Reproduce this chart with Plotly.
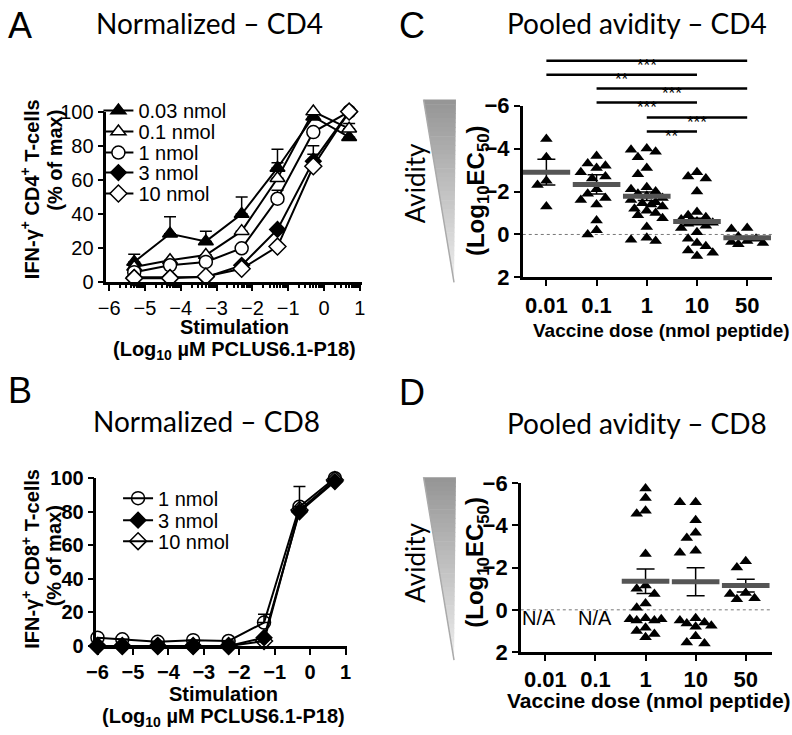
import numpy as np
import plotly.graph_objects as go

W, H = 792, 735
ARIAL = "Liberation Sans, Arial, sans-serif"
CALI = "Lato, sans-serif"

# ---- A: normalized CD4 response
stim_a = [-5.3, -4.3, -3.3, -2.3, -1.3, -0.3, 0.7]
cd4_003 = [12, 28.5, 24, 40, 67, 97, 85]
cd4_003_err = [4.5, 10, 6, 10, 11, None, None]
cd4_01 = [9, 13, 16, 30, 61, 100, 90]
cd4_01_err = [None, None, None, None, 9, None, 3]
cd4_1 = [6, 10, 12, 20, 49, 88, 100]
cd4_1_err = [None, None, None, None, 5, None, None]
cd4_3 = [3, 3, 3, 10, 31, 71, 100]
cd4_3_err = [None, None, None, None, None, 4, None]
cd4_10 = [2.5, 2.5, 3.5, 8, 21, 68, 100]
cd4_10_err = [None, None, None, None, None, 12, None]

# ---- B: normalized CD8 response
stim_b = [-6, -5.3, -4.3, -3.3, -2.3, -1.3, -0.3, 0.7]
cd8_1 = [5, 4, 2.5, 3.5, 3, 14, 83, 100]
cd8_1_err = [None, None, None, None, None, 5, 12, None]
cd8_3 = [0, 0, 0, 0, 0, 5, 80, 98]
cd8_10 = [0, 0, 0, 0, 0, 3, 81, 99]

# ---- C / D: pooled avidity (log10 EC50)
doses = ["0.01", "0.1", "1", "10", "50"]
c_vals = [
    [-4.45, -3.6, -2.5, -2.3, -1.3],
    [-3.65, -3.3, -3.2, -3.1, -2.9, -2.7, -2.6, -2.1, -1.9, -1.7, -1.6, -1.4, -0.65, -0.2, 0.0],
    [-4.0, -3.95, -3.85, -3.6, -3.1, -2.8, -2.2, -2.1, -2.0, -1.9, -1.8, -1.7, -1.6, -1.5,
     -1.45, -1.4, -1.3, -1.2, -1.1, -1.0, -0.9, -0.75, -0.35, 0.15, 0.25, 0.3],
    [-2.9, -2.7, -2.6, -2.0, -1.05, -0.9, -0.8, -0.7, -0.6, -0.55, -0.5, -0.4, -0.3, -0.1,
     0.2, 0.4, 0.55, 0.75, 0.85, 1.0],
    [-0.3, -0.25, 0.1, 0.2, 0.3, 0.35, 0.4, 0.45],
]
c_mean = [-2.9, -2.33, -1.78, -0.6, 0.15]
c_sem = [0.6, 0.45, 0.2, 0.15, 0.05]
c_sig = [(0, 4, "***"), (0, 3, "**"), (1, 4, "***"), (1, 3, "***"), (2, 4, "***"), (2, 3, "**")]

d_vals = [
    [],
    [],
    [-5.75, -5.3, -4.7, -4.55, -2.65, -1.15, -1.0, -0.75, -0.3, -0.1, 0.4, 0.45, 0.45, 0.5,
     0.5, 0.85, 1.0, 1.15, 1.3],
    [-5.1, -5.1, -4.25, -3.65, -3.4, -2.8, -2.7, 0.4, 0.5, 0.6, 0.65, 0.75, 0.8, 1.25, 1.55, 1.6],
    [-2.3, -2.0, -0.8, -0.75, -0.55, -0.5],
]
d_mean = [None, None, -1.35, -1.33, -1.15]
d_sem = [None, None, 0.58, 0.66, 0.3]


def px(x):
    return x / W


def py(y):
    # target pixel row -> paper fraction (compensates the vertical squeeze seen in the photo)
    yy = max((y - 11.3) / 0.967, 0)
    return 1 - yy / H


def swarm(vals, yscale=21.3, xscale=51.0, size=9.5):
    # simple beeswarm: spread overlapping points sideways (pixel units)
    cands = [0, -9, 9, -16, 16, -4.5, 4.5, -12.5, 12.5]
    placed, offs = [], []
    for v in vals:
        y = v * yscale
        best, score = 0, 1e9
        for c in cands:
            ov = sum(max(0, size - np.hypot(c - a, y - b)) for a, b in placed)
            if ov < score:
                best, score = c, ov
            if ov == 0:
                break
        placed.append((best, y))
        offs.append(best / xscale)
    return offs


fig = go.Figure()

# A traces
a_series = [
    ("0.03 nmol", cd4_003, cd4_003_err, "triangle-up", "black", 13),
    ("0.1 nmol", cd4_01, cd4_01_err, "triangle-up", "white", 13),
    ("1 nmol", cd4_1, cd4_1_err, "circle", "white", 13),
    ("3 nmol", cd4_3, cd4_3_err, "diamond", "black", 12),
    ("10 nmol", cd4_10, cd4_10_err, "diamond", "white", 13),
]
for i, (name, ys, err, sym, col, sz) in enumerate(a_series):
    fig.add_trace(go.Scatter(
        x=stim_a, y=ys, name=name, mode="lines+markers", xaxis="x", yaxis="y",
        legend="legend" if i == 0 else f"legend{i + 1}",
        line=dict(color="black", width=2),
        marker=dict(symbol=sym, color=col, size=sz, line=dict(color="black", width=1.5)),
        error_y=dict(type="data", symmetric=False, array=err, arrayminus=[0] * len(err),
                     color="black", thickness=1.5, width=6),
        cliponaxis=False,
    ))

# B traces
b_series = [
    ("1 nmol", cd8_1, cd8_1_err, "circle-open", 13),
    ("3 nmol", cd8_3, None, "diamond", 12),
    ("10 nmol", cd8_10, None, "diamond-open", 13),
]
for i, (name, ys, err, sym, sz) in enumerate(b_series):
    eb = None
    if err is not None:
        eb = dict(type="data", symmetric=False, array=err, arrayminus=[0] * len(err),
                  color="black", thickness=1.5, width=6)
    fig.add_trace(go.Scatter(
        x=stim_b, y=ys, name=name, mode="lines+markers", xaxis="x2", yaxis="y2",
        legend=f"legend{i + 6}",
        line=dict(color="black", width=2),
        marker=dict(symbol=sym, color="black", size=sz, line=dict(color="black", width=1.5)),
        error_y=eb, cliponaxis=False,
    ))

# C / D scatter
for vals_all, means, sems, xa, ya in [(c_vals, c_mean, c_sem, "x3", "y3"),
                                      (d_vals, d_mean, d_sem, "x4", "y4")]:
    for k, vals in enumerate(vals_all):
        if not vals:
            continue
        order = sorted(vals)
        offs = swarm(order)
        fig.add_trace(go.Scatter(
            x=[k + o for o in offs], y=order, mode="markers", xaxis=xa, yaxis=ya,
            showlegend=False, marker=dict(symbol="triangle-up", color="black", size=11),
            cliponaxis=False,
        ))
    xs = [k for k, m in enumerate(means) if m is not None]
    fig.add_trace(go.Scatter(
        x=xs, y=[means[k] for k in xs], mode="markers", xaxis=xa, yaxis=ya, showlegend=False,
        marker=dict(symbol="line-ew", size=34, color="#555555", line=dict(color="#555555", width=5)),
        error_y=dict(type="data", array=[sems[k] for k in xs], color="black", thickness=1.5, width=9),
    ))

axis_common = dict(showline=True, linecolor="black", linewidth=2.5, ticks="outside", ticklen=6,
                   tickwidth=2, tickcolor="black", showgrid=False, zeroline=False)

minor_a = [k + np.log10(m) for k in range(-6, 1) for m in range(2, 10)]

fig.update_layout(
    width=W, height=H, margin=dict(l=0, r=0, t=0, b=0),
    paper_bgcolor="white", plot_bgcolor="rgba(0,0,0,0)",
    font=dict(family=ARIAL, color="black"),
    xaxis=dict(domain=[px(98), px(358)], range=[-6.08, 1.05], anchor="y", tickvals=list(range(-6, 2)),
               tickfont=dict(size=20),
               minor=dict(tickvals=minor_a, ticks="outside", ticklen=3, tickwidth=1.5, tickcolor="black"),
               **axis_common),
    yaxis=dict(domain=[py(282), py(111)], range=[0, 100], anchor="x", dtick=20,
               tickfont=dict(size=20), **axis_common),
    xaxis2=dict(domain=[px(88), px(343)], range=[-6.03, 1.04], anchor="y2", tickvals=list(range(-6, 2)),
                tickfont=dict(size=20, weight="bold"), **axis_common),
    yaxis2=dict(domain=[py(646), py(478)], range=[0, 100], anchor="x2", dtick=20,
                tickfont=dict(size=20, weight="bold"), **axis_common),
    xaxis3=dict(domain=[px(522), px(776)], range=[-0.47, 4.5], anchor="y3",
                tickvals=list(range(5)), ticktext=doses, tickfont=dict(size=22, weight="bold"), **axis_common),
    yaxis3=dict(domain=[py(277), py(105)], range=[2, -6], anchor="x3", tickvals=[-6, -4, -2, 0, 2],
                tickfont=dict(size=22, weight="bold"), **axis_common),
    xaxis4=dict(domain=[px(520), px(776)], range=[-0.49, 4.53], anchor="y4",
                tickvals=list(range(5)), ticktext=doses, tickfont=dict(size=22, weight="bold"), **axis_common),
    yaxis4=dict(domain=[py(652), py(483)], range=[2, -6], anchor="x4", tickvals=[-6, -4, -2, 0, 2],
                tickfont=dict(size=22, weight="bold"), **axis_common),
)

# one legend per entry, so the rows can sit close together
leg_rows = [(90, 110), (90, 131), (90, 152), (90, 172), (90, 193), (110, 498), (110, 520), (110, 541)]
for i, (lx, ly) in enumerate(leg_rows):
    key = "legend" if i == 0 else f"legend{i + 1}"
    fig.update_layout({key: dict(x=px(lx), y=py(ly), xanchor="left", yanchor="middle",
                                 bgcolor="rgba(0,0,0,0)", font=dict(size=20, family=ARIAL))})

anns = []


def text(t, x, y, size, bold=False, angle=0, family=ARIAL):
    anns.append(dict(text=t, x=px(x), y=py(y), xref="paper", yref="paper", showarrow=False,
                     xanchor="center", yanchor="middle", textangle=angle,
                     font=dict(size=size, family=family, color="black",
                               weight="bold" if bold else "normal")))


# panel letters and titles
text("A", 10, 25, 36)
text("B", 10, 390, 36)
text("C", 409, 25, 36)
text("D", 409, 392, 36)
text("Normalized – CD4", 203, 22, 28, family=CALI)
text("Normalized – CD8", 200, 421, 28, family=CALI)
text("Pooled avidity – CD4", 638, 22, 28, family=CALI)
text("Pooled avidity – CD8", 638, 423, 28, family=CALI)

# axis titles
text("IFN-γ<sup>+</sup> CD4<sup>+</sup> T-cells", 20, 189, 20, True, -90)
text("(% of max)", 45, 160, 20, True, -90)
text("Stimulation", 229, 327, 20, True)
text("(Log<sub>10</sub> µM PCLUS6.1-P18)", 229, 350, 20, True)
text("IFN-γ<sup>+</sup> CD8<sup>+</sup> T-cells", 20, 559, 20, True, -90)
text("(% of max)", 45, 556, 20, True, -90)
text("Stimulation", 217, 694, 20, True)
text("(Log<sub>10</sub> µM PCLUS6.1-P18)", 217, 718, 20, True)
text("(Log<sub>10</sub>EC<sub>50</sub>)", 476, 190, 24, True, -90)
text("(Log<sub>10</sub>EC<sub>50</sub>)", 475, 562, 24, True, -90)
text("Avidity", 412, 183, 26, angle=-90, family=CALI)
text("Avidity", 412, 563, 26, angle=-90, family=CALI)
text("Vaccine dose (nmol peptide)", 663, 330, 19, True)
text("Vaccine dose (nmol peptide)", 650, 701, 21, True)

# N/A labels in D
for k in (0, 1):
    anns.append(dict(text="N/A", x=k, y=0, xref="x4", yref="y4", showarrow=False, yshift=-8,
                     xshift=-6 if k == 0 else 0, font=dict(size=20, family=ARIAL, color="black")))

shapes = []
# significance bars in C
sig_y = [60, 74, 88, 102, 117, 131]
for (a, b, stars), yy in zip(c_sig, sig_y):
    shapes.append(dict(type="line", xref="x3", yref="paper", x0=a, x1=b, y0=py(yy), y1=py(yy),
                       line=dict(color="black", width=2.5)))
    anns.append(dict(text=stars, x=(a + b) / 2, y=py(yy - 7), xref="x3", yref="paper",
                     showarrow=False, font=dict(size=17, family=ARIAL, color="black")))

# dotted zero lines
for xa, ya in [("x3", "y3"), ("x4", "y4")]:
    shapes.append(dict(type="line", xref=f"{xa} domain", yref=ya, x0=0, x1=1, y0=0, y1=0,
                       line=dict(color="#777777", width=1, dash="dot"), layer="below"))

# avidity wedges (vertical gray gradient)
n = 40
for top in (99, 477):
    hgt = 183
    for i in range(n):
        t0, t1 = i / n, (i + 1) / n
        g = int(150 + 90 * t0)
        xl0, xl1 = 421 + 31 * t0, 421 + 31 * t1
        xr0, xr1 = 454 - 2 * t0, 454 - 2 * t1
        y0, y1 = top + hgt * t0, top + hgt * t1 + 0.6
        path = (f"M {px(xl0)},{py(y0)} L {px(xr0)},{py(y0)} L {px(xr1)},{py(y1)} "
                f"L {px(xl1)},{py(y1)} Z")
        shapes.append(dict(type="path", path=path, xref="paper", yref="paper",
                           fillcolor=f"rgb({g},{g},{g})", line=dict(width=0), layer="below"))
    shapes.append(dict(type="line", xref="paper", yref="paper", x0=px(421), y0=py(top),
                       x1=px(452), y1=py(top + hgt), line=dict(color="rgb(170,170,170)", width=1.5)))

fig.update_layout(annotations=anns, shapes=shapes)
# page without the default body margin, so the figure fills the window exactly
fig.write_html("out.html", config={"displayModeBar": False},
               post_script="document.body.style.margin='0';document.body.style.overflow='hidden';")
